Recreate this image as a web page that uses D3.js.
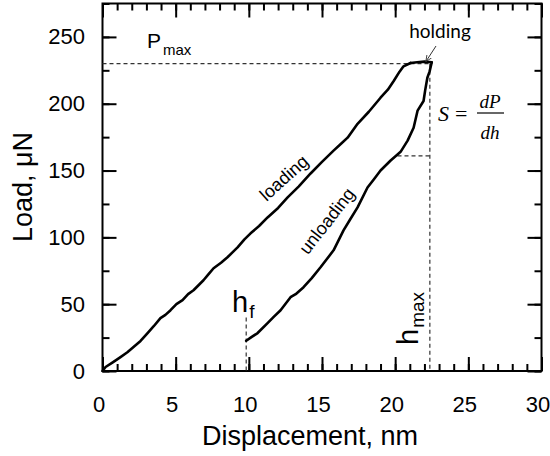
<!DOCTYPE html>
<html>
<head>
<meta charset="utf-8">
<script src="https://cdn.jsdelivr.net/npm/d3@7"></script>
<style>
  html, body { margin: 0; padding: 0; background: #fff; }
  svg { display: block; }
</style>
</head>
<body>
<svg id="chart" width="550" height="456"></svg>
<script>
// ---- data ----
const xTicks = [0, 5, 10, 15, 20, 25, 30];
const yTicks = [0, 50, 100, 150, 200, 250];
const xMinorTicks = d3.range(0, 31, 1);
const yMinorTicks = d3.range(0, 276, 25);

// loading branch: [displacement nm, load µN]
const loading = [
  [0, 0], [0.21, 3.0], [0.7, 6.5], [1.23, 10.4], [1.7, 14.0], [2.12, 17.9], [2.6, 22.5], [3.08, 28.4],
  [3.5, 33.5], [3.96, 39.6], [4.3, 42.0], [4.65, 45.5], [5.05, 50.0], [5.47, 53.0], [5.85, 57.5],
  [6.22, 60.4], [6.9, 67.9], [7.25, 72.5], [7.59, 76.9], [8.1, 81.0], [8.54, 85.1], [9.23, 92.5],
  [9.7, 98.5], [10.12, 103.0], [10.7, 108.5], [11.28, 114.9], [12.0, 122.0], [12.65, 129.9],
  [13.4, 138.0], [14.22, 147.8], [15.0, 156.5], [15.79, 164.9], [16.3, 170.0], [16.75, 174.6],
  [17.43, 185.0], [18.2, 194.0], [19.0, 204.5], [19.5, 210.5], [19.9, 217.0], [20.3, 224.0],
  [20.57, 228.0], [21.05, 230.5]
];
// holding segment at peak load
const holding = [[21.05, 230.5], [21.5, 231.0], [22.0, 231.5], [22.5, 231.0]];
// unloading branch
const unloading = [
  [22.5, 231.0], [22.35, 224.0], [22.2, 219.4], [22.05, 210.0], [21.94, 202.0], [21.53, 194.8],
  [21.26, 182.0], [20.85, 172.4], [20.37, 164.0], [20.16, 162.0], [19.69, 157.5], [19.0, 150.0],
  [18.55, 143.5], [18.11, 137.3], [17.43, 122.4], [16.9, 113.0], [16.47, 105.2], [15.79, 90.3],
  [14.9, 77.6], [14.3, 69.5], [13.74, 62.7], [13.2, 57.5], [12.85, 55.2], [12.17, 45.5],
  [11.7, 40.5], [11.28, 35.8], [10.6, 28.4], [10.2, 25.5], [9.82, 22.6]
];

// annotation values
const pMax = 230;     // µN
const hMax = 22.37;   // nm
const hF = 9.82;      // nm
const hFTop = 40;     // µN, top of h_f marker
const stiffLoad = 161;   // µN, horizontal leg of the stiffness triangle
const stiffStart = 20.16; // nm

// ---- layout ----
const svg = d3.select("#chart");
const mLeft = 102.5, mRight = 541.5, mTop = 3.5, mBottom = 371;
const x = d3.scaleLinear().domain([0, 30]).range([mLeft, mRight]);
const y = d3.scaleLinear().domain([0, 275]).range([mBottom, mTop]);

const axisFont = "'Liberation Sans', Arial, sans-serif";

function styleAxis(g) {
  g.select(".domain").remove();
  g.selectAll(".tick line").attr("stroke", "#000").attr("stroke-width", 2);
  g.selectAll(".tick text").attr("font-family", axisFont).attr("font-size", 22).attr("fill", "#000");
}
// minor ticks (inward)
svg.append("g").attr("transform", `translate(0,${mBottom})`)
  .call(d3.axisBottom(x).tickValues(xMinorTicks).tickSizeInner(-7).tickSizeOuter(0).tickFormat(""))
  .call(styleAxis);
svg.append("g").attr("transform", `translate(0,${mTop})`)
  .call(d3.axisTop(x).tickValues(xMinorTicks).tickSizeInner(-7).tickSizeOuter(0).tickFormat(""))
  .call(styleAxis);
svg.append("g").attr("transform", `translate(${mLeft},0)`)
  .call(d3.axisLeft(y).tickValues(yMinorTicks).tickSizeInner(-7).tickSizeOuter(0).tickFormat(""))
  .call(styleAxis);
svg.append("g").attr("transform", `translate(${mRight},0)`)
  .call(d3.axisRight(y).tickValues(yMinorTicks).tickSizeInner(-7).tickSizeOuter(0).tickFormat(""))
  .call(styleAxis);
// major ticks
svg.append("g").attr("transform", `translate(0,${mBottom})`)
  .call(d3.axisBottom(x).tickValues(xTicks).tickSizeInner(-14).tickSizeOuter(0).tickPadding(25).tickFormat(d3.format("d")))
  .call(styleAxis)
  .call(g => g.selectAll(".tick text").attr("x", -4));
svg.append("g").attr("transform", `translate(0,${mTop})`)
  .call(d3.axisTop(x).tickValues(xTicks).tickSizeInner(-14).tickSizeOuter(0).tickFormat(""))
  .call(styleAxis);
svg.append("g").attr("transform", `translate(${mLeft},0)`)
  .call(d3.axisLeft(y).tickValues(yTicks).tickSizeInner(-14).tickSizeOuter(0).tickPadding(17.5).tickFormat(d3.format("d")))
  .call(styleAxis);
svg.append("g").attr("transform", `translate(${mRight},0)`)
  .call(d3.axisRight(y).tickValues(yTicks).tickSizeInner(-14).tickSizeOuter(0).tickFormat(""))
  .call(styleAxis);

// frame
svg.append("rect").attr("x", mLeft).attr("y", mTop)
  .attr("width", mRight - mLeft).attr("height", mBottom - mTop)
  .attr("fill", "none").attr("stroke", "#000").attr("stroke-width", 2);

// dashed guide lines
function dashed(x1, y1, x2, y2) {
  svg.append("line").attr("x1", x(x1)).attr("y1", y(y1)).attr("x2", x(x2)).attr("y2", y(y2))
    .attr("stroke", "#333").attr("stroke-width", 1.2).attr("stroke-dasharray", "4,3");
}
dashed(0, pMax, hMax, pMax);
dashed(hMax, pMax, hMax, 0);
dashed(hF, hFTop, hF, 0);
dashed(stiffStart, stiffLoad, hMax, stiffLoad);

// curves
const line = d3.line().x(d => x(d[0])).y(d => y(d[1]));
[loading, holding, unloading].forEach(data => {
  svg.append("path").datum(data).attr("d", line)
    .attr("fill", "none").attr("stroke", "#000").attr("stroke-width", 2.6)
    .attr("stroke-linejoin", "round").attr("stroke-linecap", "round");
});

// axis titles
svg.append("text").attr("x", 310).attr("y", 445).attr("text-anchor", "middle")
  .attr("font-family", axisFont).attr("font-size", 27).text("Displacement, nm");
svg.append("text").attr("transform", "translate(32,187) rotate(-90)").attr("text-anchor", "middle")
  .attr("font-family", axisFont).attr("font-size", 27).text("Load, \u03BCN");

// P_max
const pm = svg.append("text").attr("x", 147).attr("y", 48).attr("font-family", axisFont).attr("font-size", 21);
pm.append("tspan").text("P");
pm.append("tspan").attr("font-size", 15).attr("dy", 7).attr("dx", 2).text("max");

// h_f
const hf = svg.append("text").attr("x", 232).attr("y", 312).attr("font-family", axisFont).attr("font-size", 29);
hf.append("tspan").text("h");
hf.append("tspan").attr("font-size", 19).attr("dy", 6).attr("dx", 1).text("f");

// h_max (rotated)
const hm = svg.append("text").attr("transform", "translate(418,345) rotate(-90)")
  .attr("font-family", axisFont).attr("font-size", 29);
hm.append("tspan").text("h");
hm.append("tspan").attr("font-size", 19).attr("dy", 6).attr("dx", 1).text("max");

// curve labels
svg.append("text").attr("transform", "translate(284,178) rotate(-42)")
  .attr("text-anchor", "middle").attr("dominant-baseline", "central")
  .attr("font-family", axisFont).attr("font-size", 18).text("loading");
svg.append("text").attr("transform", "translate(327,221) rotate(-52)")
  .attr("text-anchor", "middle").attr("dominant-baseline", "central")
  .attr("font-family", axisFont).attr("font-size", 18).text("unloading");

// holding label + arrow
svg.append("text").attr("x", 440).attr("y", 38).attr("text-anchor", "middle")
  .attr("font-family", "Lato, 'Open Sans', sans-serif").attr("font-size", 19).text("holding");
svg.append("defs").append("marker").attr("id", "arr").attr("viewBox", "0 0 10 10")
  .attr("refX", 9).attr("refY", 5).attr("markerWidth", 7).attr("markerHeight", 7).attr("orient", "auto")
  .append("path").attr("d", "M0,1 L9,5 L0,9").attr("fill", "none").attr("stroke", "#333").attr("stroke-width", 1.2);
svg.append("line").attr("x1", 436).attr("y1", 46).attr("x2", x(hMax) - 4).attr("y2", y(pMax) - 2)
  .attr("stroke", "#333").attr("stroke-width", 1).attr("marker-end", "url(#arr)");

// stiffness formula S = dP/dh
const serif = "'Liberation Serif', 'DejaVu Serif', serif";
svg.append("text").attr("x", 438).attr("y", 121).attr("font-family", serif).attr("font-style", "italic")
  .attr("font-size", 22).text("S");
svg.append("text").attr("x", 455).attr("y", 121).attr("font-family", serif)
  .attr("font-size", 22).text("=");
svg.append("text").attr("x", 490).attr("y", 108).attr("text-anchor", "middle").attr("font-family", serif)
  .attr("font-style", "italic").attr("font-size", 19).text("dP");
svg.append("line").attr("x1", 477).attr("x2", 504).attr("y1", 113).attr("y2", 113)
  .attr("stroke", "#000").attr("stroke-width", 1.2);
svg.append("text").attr("x", 490).attr("y", 139).attr("text-anchor", "middle").attr("font-family", serif)
  .attr("font-style", "italic").attr("font-size", 19).text("dh");
</script>
</body>
</html>
